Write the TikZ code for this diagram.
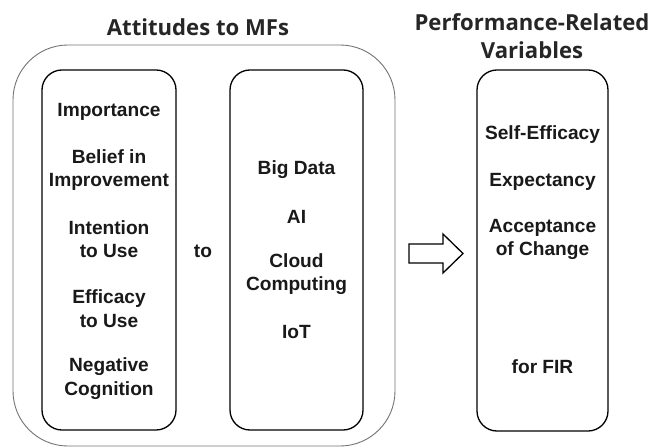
\documentclass[tikz,border=0pt]{standalone}
\usepackage{fontspec}
\newfontfamily\bodyfont{Liberation Sans}
\newfontfamily\titlefont{Open Sans}
\begin{document}
\begin{tikzpicture}[x=1bp,y=-1bp,
  outerbox/.style={draw=black!55, line width=0.9bp, rounded corners=55bp, inner sep=0pt},
  innerbox/.style={draw=black, line width=1.3bp, rounded corners=20bp, inner sep=0pt},
  item/.style={font=\bodyfont\fontsize{19.2}{23.5}\selectfont\bfseries, align=center, inner sep=0pt, text=black!90},
  ttl/.style={font=\titlefont\fontsize{22.2}{28}\selectfont\bfseries, align=center, inner sep=0pt, text=black!85},
  blockarrow/.style={draw=black, line width=1.3bp, fill=white, line join=miter}]
\useasboundingbox (0,0) rectangle (651,448);
% titles
\node[ttl] (t1) at (198,27) {Attitudes to MFs};
\node[ttl] (t2) at (532,36) {Performance-Related\\Variables};
% boxes
\node[outerbox, minimum width=382bp, minimum height=401bp] (outer) at (204,245.5) {};
\node[innerbox, minimum width=134bp, minimum height=360bp] (left) at (109,250) {};
\node[innerbox, minimum width=133bp, minimum height=360bp] (mid) at (296.5,250) {};
\node[innerbox, minimum width=131bp, minimum height=361bp] (right) at (542.5,250.5) {};
% left items
\node[item] (a1) at (109,112) {Importance};
\node[item] (a2) at (109,170) {Belief in\\Improvement};
\node[item] (a3) at (109,239) {Intention\\to Use};
\node[item] (a4) at (109,308.5) {Efficacy\\to Use};
\node[item] (a5) at (109,378.5) {Negative\\Cognition};
% to
\node[item] (to) at (203,251) {to};
% middle items
\node[item] (b1) at (296.5,170) {Big Data};
\node[item] (b2) at (296.5,217) {AI};
\node[item] (b3) at (296.5,274) {Cloud\\Computing};
\node[item] (b4) at (296.5,332) {IoT};
% right items
\node[item] (c1) at (542.5,135) {Self-Efficacy};
\node[item] (c2) at (542.5,182) {Expectancy};
\node[item] (c3) at (542.5,239.5) {Acceptance\\of Change};
\node[item] (c4) at (542.5,367) {for FIR};
% block arrow
\coordinate (arr) at (409,253.5);
\draw[blockarrow] (arr) ++(0,-9.5) -- ++(34,0) -- ++(0,-10) -- ++(20,19.5)
  -- ++(-20,19.5) -- ++(0,-10) -- ++(-34,0) -- cycle;
\end{tikzpicture}
\end{document}
